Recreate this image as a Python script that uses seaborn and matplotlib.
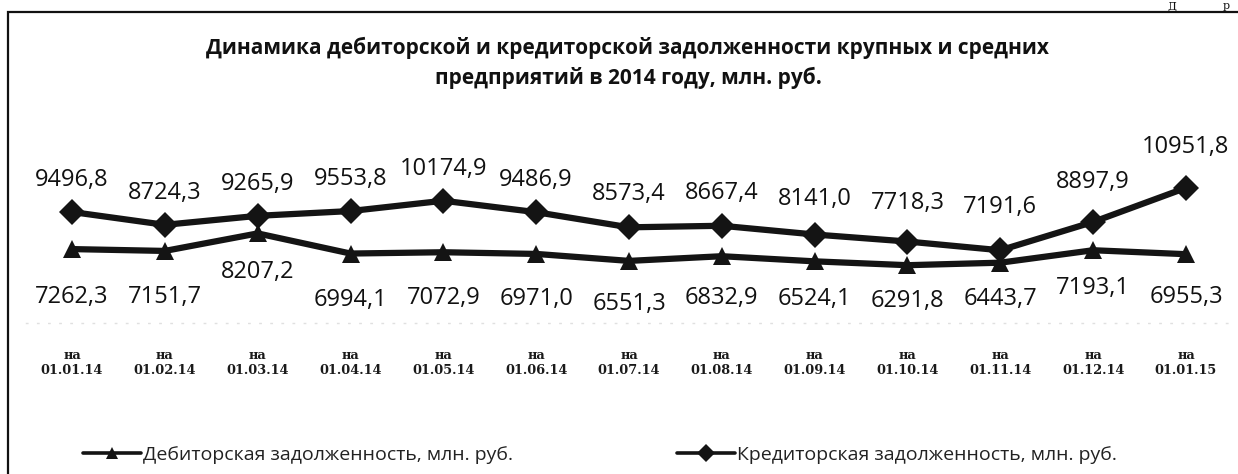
import matplotlib
matplotlib.use("Agg")
import matplotlib.pyplot as plt
import seaborn as sns
import pandas as pd
from matplotlib.patches import Rectangle

# ---------------- data ----------------
dates = ["01.01.14", "01.02.14", "01.03.14", "01.04.14", "01.05.14", "01.06.14",
         "01.07.14", "01.08.14", "01.09.14", "01.10.14", "01.11.14", "01.12.14", "01.01.15"]
tick_labels = ["на\n" + d for d in dates]
debit = [7262.3, 7151.7, 8207.2, 6994.1, 7072.9, 6971.0, 6551.3,
         6832.9, 6524.1, 6291.8, 6443.7, 7193.1, 6955.3]
credit = [9496.8, 8724.3, 9265.9, 9553.8, 10174.9, 9486.9, 8573.4,
          8667.4, 8141.0, 7718.3, 7191.6, 8897.9, 10951.8]
series_names = ["Дебиторская задолженность, млн. руб.",
                "Кредиторская задолженность, млн. руб."]
title = ("Динамика дебиторской и кредиторской задолженности крупных и средних\n"
         "предприятий в 2014 году, млн. руб.")

# label offsets (pixels) relative to the points
credit_dy = [32, 32, 32, 32, 32, 32, 33, 33, 36, 39, 43, 40, 41]
debit_dy = [-48, -46, -39, -46, -46, -45, -43, -42, -38, -36, -36, -38, -43]

df = pd.DataFrame({
    "x": list(range(len(dates))) * 2,
    "value": debit + credit,
    "series": [series_names[0]] * len(dates) + [series_names[1]] * len(dates),
})

# ---------------- figure ----------------
sns.set_theme(style="white")
plt.rcParams["font.family"] = ["Open Sans", "DejaVu Sans"]

W, H, DPI = 1238, 474, 100
fig = plt.figure(figsize=(W / DPI, H / DPI), dpi=DPI)
fig.patch.set_facecolor("white")

ax_left, ax_right = 25.6, 1232.4
ax_top, ax_bottom = 90, 323
ax = fig.add_axes([ax_left / W, 1 - ax_bottom / H, (ax_right - ax_left) / W, (ax_bottom - ax_top) / H])
ax.set_facecolor("none")

line_col = "#141414"
sns.lineplot(data=df, x="x", y="value", hue="series", style="series",
             palette=[line_col, line_col], markers={series_names[0]: "^", series_names[1]: "D"},
             dashes=False, linewidth=4.5, markersize=13, markeredgewidth=0,
             ax=ax, legend=True)

ax.set_xlim(-0.5, 12.5)
ax.set_ylim(2810, 16846)
ax.set_xlabel("")
ax.set_ylabel("")
ax.set_yticks([])
ax.set_xticks(range(len(dates)))
ax.set_xticklabels(tick_labels, fontfamily="DejaVu Serif", fontsize=9.3, fontweight="semibold",
                   color="#1a1a1a", linespacing=1.15)
ax.tick_params(axis="x", length=0, pad=19)
for s in ["top", "right", "left"]:
    ax.spines[s].set_visible(False)
ax.spines["bottom"].set_color("#e0e0e0")
ax.spines["bottom"].set_linestyle((0, (1, 7)))
ax.spines["bottom"].set_linewidth(1.0)

def fmt(v):
    return f"{v:.1f}".replace(".", ",")

for i, v in enumerate(credit):
    ax.annotate(fmt(v), (i, v), xytext=(0, credit_dy[i]), textcoords="offset pixels",
                ha="center", va="center", fontsize=17, color="#111111")
for i, v in enumerate(debit):
    ax.annotate(fmt(v), (i, v), xytext=(0, debit_dy[i]), textcoords="offset pixels",
                ha="center", va="center", fontsize=17, color="#111111")

# legend
handles, labels = ax.get_legend_handles_labels()
ax.get_legend().remove()
for h in handles:
    h.set_linewidth(2.6)
    h.set_markersize(9)
fig.legend(handles, labels, loc="center", bbox_to_anchor=(600 / W, 1 - 455 / H), ncol=2,
           frameon=False, fontsize=14, handlelength=3.0, handletextpad=0.1,
           columnspacing=8.4, labelcolor="#222222")

# title
fig.text(628 / W, 1 - 63 / H, title, ha="center", va="center", fontsize=15,
         fontweight="bold", color="#111111", linespacing=1.45)

# frame of the chart area (scanned page)
fig.add_artist(Rectangle((8 / W, -0.1), 1.2, 1 - 12 / H + 0.1, transform=fig.transFigure,
                         fill=False, edgecolor="#111111", linewidth=1.6))
fig.text(1172 / W, 1 - 6 / H, "Д", ha="center", va="center", fontsize=8,
         fontfamily="DejaVu Serif", color="#111111")
fig.text(1226 / W, 1 - 6 / H, "р", ha="center", va="center", fontsize=8,
         fontfamily="DejaVu Serif", color="#111111")

fig.savefig("out.png", dpi=DPI)
